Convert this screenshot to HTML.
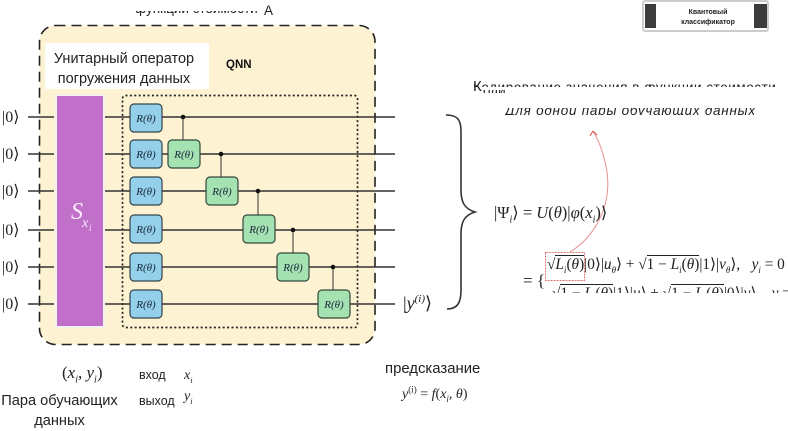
<!DOCTYPE html>
<html lang="ru">
<head>
<meta charset="utf-8">
<style>
html,body{margin:0;padding:0;background:#fff}
#p{position:relative;width:788px;height:431px;overflow:hidden;background:#fff;font-family:"Liberation Sans","Noto Sans CJK SC",sans-serif;color:#222}
.t{position:absolute;white-space:nowrap}
.c{position:absolute;overflow:hidden;white-space:nowrap}
.m{font-family:"Liberation Serif","Noto Serif CJK SC",serif}
svg{position:absolute;left:0;top:0}
svg text{font-family:"Liberation Serif",serif}
</style>
</head>
<body>
<div id="p">
<svg width="788" height="431" viewBox="0 0 788 431">
  <rect x="39.5" y="25.5" width="335.5" height="319" rx="16" fill="#fdf3d3" stroke="#222" stroke-width="1.6" stroke-dasharray="10 6"/>
  <rect x="45" y="43" width="164" height="46" fill="#fff"/>
  <rect x="55" y="94" width="50" height="234" fill="#f4f2f0"/>
  <rect x="57" y="96" width="46" height="230" fill="#c070c8"/>
  <rect x="122.5" y="95.5" width="235" height="232" rx="3" fill="none" stroke="#222" stroke-width="1.7" stroke-dasharray="2 2.4"/>
  <g stroke="#333" stroke-width="1.6" fill="none">
    <path d="M28 117H54M105 117H395"/>
    <path d="M28 154H54M105 154H395"/>
    <path d="M28 191H54M105 191H395"/>
    <path d="M28 230H54M105 230H395"/>
    <path d="M28 267H54M105 267H395"/>
    <path d="M28 304H54M105 304H395"/>
    <g stroke-width="1">
    <path d="M183 117V140M221 154V177M258 191V215M293 230V253M333 267V290"/>
    </g>
  </g>
  <g fill="#111">
    <circle cx="183" cy="117" r="2.3"/><circle cx="221" cy="154" r="2.3"/><circle cx="258" cy="191" r="2.3"/><circle cx="293" cy="230" r="2.3"/><circle cx="333" cy="267" r="2.3"/>
  </g>
  <g fill="#94d0ea" stroke="#33434a" stroke-width="1.2">
    <rect x="130" y="104" width="32" height="28" rx="4"/>
    <rect x="130" y="140" width="32" height="28" rx="4"/>
    <rect x="130" y="177" width="32" height="28" rx="4"/>
    <rect x="130" y="215" width="32" height="28" rx="4"/>
    <rect x="130" y="253" width="32" height="28" rx="4"/>
    <rect x="130" y="290" width="32" height="28" rx="4"/>
  </g>
  <g fill="#a5e2b2" stroke="#33473a" stroke-width="1.2">
    <rect x="168" y="140" width="32" height="28" rx="4"/>
    <rect x="206" y="177" width="32" height="28" rx="4"/>
    <rect x="243" y="215" width="32" height="28" rx="4"/>
    <rect x="277" y="253" width="32" height="28" rx="4"/>
    <rect x="318" y="290" width="32" height="28" rx="4"/>
  </g>
  <g font-size="11" font-style="italic" fill="#17253a" text-anchor="middle">
    <text x="146" y="122">R(θ)</text><text x="146" y="158">R(θ)</text><text x="146" y="195">R(θ)</text><text x="146" y="233">R(θ)</text><text x="146" y="271">R(θ)</text><text x="146" y="308">R(θ)</text>
    <text x="184" y="158">R(θ)</text><text x="222" y="195">R(θ)</text><text x="259" y="233">R(θ)</text><text x="293" y="271">R(θ)</text><text x="334" y="308">R(θ)</text>
  </g>
  <g font-size="16" fill="#222">
    <text x="2" y="122">|0⟩</text><text x="2" y="159">|0⟩</text><text x="2" y="196">|0⟩</text><text x="2" y="235">|0⟩</text><text x="2" y="272">|0⟩</text><text x="2" y="309">|0⟩</text>
  </g>
  <text x="71" y="219" font-size="24" font-style="italic" fill="#fbeefc">S</text>
  <text x="82" y="227" font-size="14" font-style="italic" fill="#fbeefc">x</text>
  <text x="89" y="231" font-size="9" font-style="italic" fill="#fbeefc">i</text>

  <path d="M446 115C458 115 461 120 461 132V190C461 203 465 209 475 212C465 215 461 221 461 234V290C461 302 458 309 447 309" fill="none" stroke="#333" stroke-width="1.6"/>

  <path d="M570 252C593 238 612 208 607 172C604 153 599 141 593 131" fill="none" stroke="#e89090" stroke-width="1"/>
  <path d="M593 131L590 136M593 131L597 135" fill="none" stroke="#e05050" stroke-width="1"/>
  <rect x="545.5" y="252.5" width="39" height="28" fill="none" stroke="#e07070" stroke-width="1" stroke-dasharray="2 1"/>

  <rect x="643" y="1" width="125" height="30" fill="#fff" stroke="#ccc" stroke-width="2" rx="2"/>
  <rect x="645" y="4" width="11" height="24" fill="#3c3c3c"/>
  <rect x="754" y="4" width="13" height="24" fill="#3c3c3c"/>
</svg>

<div class="t" style="left:51px;top:49px;width:146px;text-align:center;font-size:14.5px;line-height:20px">Унитарный оператор<br>погружения данных</div>
<div class="t" style="left:226px;top:59px;font-size:11.5px;font-weight:bold;color:#111">QNN</div>

<div class="c" style="left:135px;top:11px;width:130px;height:5px;font-size:13.5px;line-height:5px"><span style="position:relative;top:-5px">функции стоимости</span></div>
<div class="t" style="left:264px;top:4px;font-size:13.5px;line-height:14px">A</div>

<div class="c" style="left:473px;top:84px;width:302px;height:3px;font-size:13.5px;line-height:3px;letter-spacing:.55px"><span style="position:relative;top:2px">Кодирование значения в функции стоимости</span></div>
<div class="t" style="left:473px;top:79px;font-size:15px;line-height:16px">К</div>
<div class="c" style="left:483px;top:90px;width:22px;height:3px;font-size:13.5px;line-height:3px"><span style="position:relative;top:-1px">одир</span></div>
<div class="c" style="left:505px;top:108px;width:254px;height:7px;font-size:13.5px;line-height:7px;font-style:italic;letter-spacing:.75px"><span style="position:relative;top:-1px">Для одной пары обучающих данных</span></div>

<div class="t" style="left:664px;top:8px;width:88px;text-align:center;font-size:7px;line-height:10px;font-weight:bold;color:#222">Квантовый<br>классификатор</div>

<div class="t m" style="left:403px;top:292px;font-size:18px;line-height:22px">|<i>y</i><sup style="font-size:11px;line-height:0"><i>(i)</i></sup>⟩</div>
<div class="t m" style="left:494px;top:202px;font-size:16.5px;line-height:22px">|Ψ<sub style="font-size:10px;line-height:0"><i>i</i></sub>⟩ = <i>U</i>(<i>θ</i>)|<i>φ</i>(<i>x<sub style="font-size:10px;line-height:0">i</sub></i>)⟩</div>
<div class="t m" style="left:523px;top:270px;font-size:17px;line-height:22px">= {</div>
<div class="t m" style="left:547px;top:254px;font-size:15.3px;line-height:22px">√<span style="border-top:1px solid #222"><i>L<sub style="font-size:9px;line-height:0">i</sub></i>(<i>θ</i>)</span>|0⟩|<i>u<sub style="font-size:9px;line-height:0">θ</sub></i>⟩ + √<span style="border-top:1px solid #222">1 − <i>L<sub style="font-size:9px;line-height:0">i</sub></i>(<i>θ</i>)</span>|1⟩|<i>v<sub style="font-size:9px;line-height:0">θ</sub></i>⟩, &nbsp; <i>y<sub style="font-size:9px;line-height:0">i</sub></i> = 0</div>
<div class="c m" style="left:552px;top:283px;width:236px;height:10px;font-size:15.3px;line-height:22px">√<span style="border-top:1px solid #222">1 − <i>L<sub style="font-size:9px;line-height:0">i</sub></i>(<i>θ</i>)</span>|1⟩|<i>u</i>⟩ + √<span style="border-top:1px solid #222">1 − <i>L<sub style="font-size:9px;line-height:0">i</sub></i>(<i>θ</i>)</span>|0⟩|<i>v</i>⟩, &nbsp; <i>y</i> = 1</div>

<div class="t m" style="left:62px;top:362px;font-size:17px;line-height:22px">(<i>x<sub style="font-size:10px;line-height:0">i</sub></i>, <i>y<sub style="font-size:10px;line-height:0">i</sub></i>)</div>
<div class="t" style="left:139px;top:368px;font-size:12.5px;line-height:15px">вход</div>
<div class="t m" style="left:184px;top:368px;font-size:14px;line-height:16px"><i>x<sub style="font-size:8px;line-height:0">i</sub></i></div>
<div class="t" style="left:139px;top:394px;font-size:12.5px;line-height:15px">выход</div>
<div class="t m" style="left:184px;top:389px;font-size:14px;line-height:16px"><i>y<sub style="font-size:8px;line-height:0">i</sub></i></div>
<div class="t" style="left:0;top:391px;width:119px;text-align:center;font-size:14.6px;line-height:20px">Пара обучающих<br>данных</div>
<div class="t" style="left:385px;top:361px;font-size:14.9px;line-height:17px">предсказание</div>
<div class="t m" style="left:402px;top:385px;font-size:14px;line-height:19px"><i>y</i><sup style="font-size:9px;line-height:0">(i)</sup> = <i>f</i>(<i>x<sub style="font-size:9px;line-height:0">i</sub></i>, <i>θ</i>)</div>
</div>
</body>
</html>
